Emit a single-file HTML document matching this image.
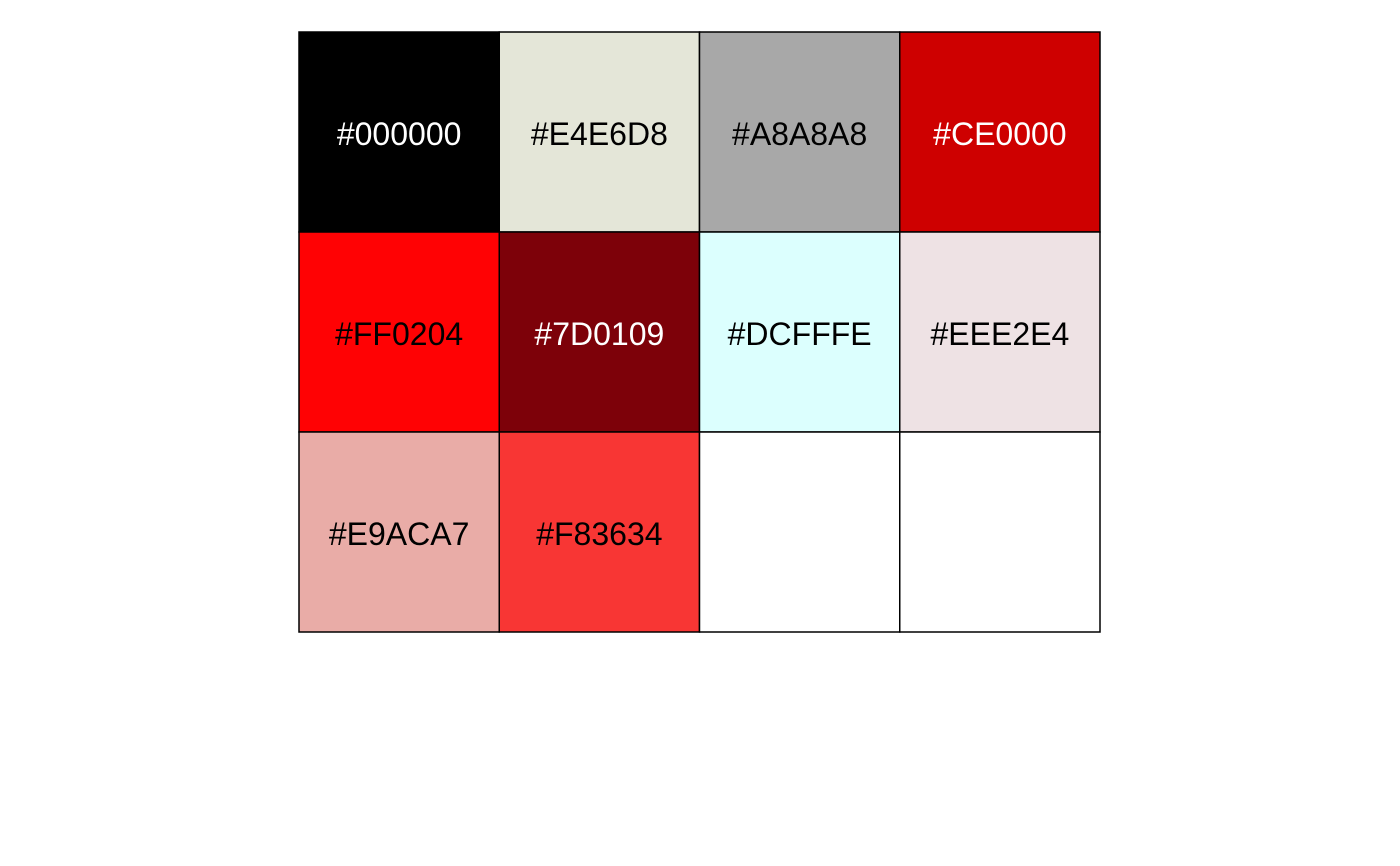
<!DOCTYPE html>
<html><head><meta charset="utf-8"><style>
html,body{margin:0;padding:0;background:#fff;width:1400px;height:866px;overflow:hidden}
svg text{font-family:"Liberation Sans",Arial,sans-serif;font-size:32px}
</style></head><body>
<svg id="chart" width="1400" height="866" xmlns="http://www.w3.org/2000/svg"></svg>
<script>
const colors = ["#000000","#E4E6D8","#A8A8A8","#CE0000","#FF0204","#7D0109","#DCFFFE","#EEE2E4","#E9ACA7","#F83634"];
const labelColors = ["#FFFFFF","#000000","#000000","#FFFFFF","#000000","#FFFFFF","#000000","#000000","#000000","#000000"];
const ncol = 4, nrow = 3;
const x0 = 299, x1 = 1100, y0 = 32, y1 = 632;
const svg = document.getElementById('chart');
const NS = "http://www.w3.org/2000/svg";
const cw = (x1 - x0) / ncol, ch = (y1 - y0) / nrow;
for (let i = 0; i < ncol * nrow; i++) {
  const c = i % ncol, r = Math.floor(i / ncol);
  const rect = document.createElementNS(NS, 'rect');
  rect.setAttribute('x', x0 + c * cw); rect.setAttribute('y', y0 + r * ch);
  rect.setAttribute('width', cw); rect.setAttribute('height', ch);
  rect.setAttribute('fill', i < colors.length ? colors[i] : '#FFFFFF');
  rect.setAttribute('stroke', '#000'); rect.setAttribute('stroke-width', '1.5');
  
  
  svg.appendChild(rect);
  if (i < colors.length) {
    const t = document.createElementNS(NS, 'text');
    t.setAttribute('x', x0 + c * cw + cw / 2);
    t.setAttribute('y', y0 + r * ch + ch / 2 + 13);
    t.setAttribute('text-anchor', 'middle');
    t.setAttribute('fill', labelColors[i]);
    t.textContent = colors[i];
    
    
    svg.appendChild(t);
  }
}
</script>
</body></html>
